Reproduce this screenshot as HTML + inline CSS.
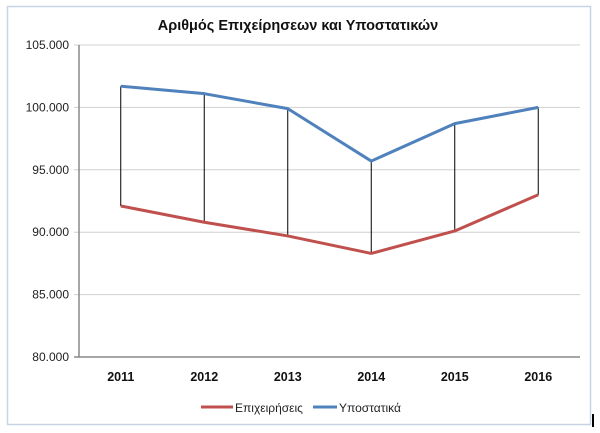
<!DOCTYPE html>
<html><head><meta charset="utf-8"><style>
body{margin:0;background:#fff;}
svg{display:block;font-family:"Liberation Sans","DejaVu Sans",sans-serif;}
</style></head><body>
<svg width="600" height="433">
<rect x="7.5" y="6.5" width="583" height="418" fill="#fff" stroke="#c8d3e3" stroke-width="1.5"/>
<text x="298" y="30" text-anchor="middle" font-size="14.5" font-weight="bold" fill="#111">Αριθμός Επιχείρησεων  και Υποστατικών</text>
<g id="grid"></g><g id="drops"></g><g id="lines"></g><g id="labels"></g>
<g>
<line x1="201" y1="407" x2="233" y2="407" stroke="#c0504d" stroke-width="3"/>
<text x="235" y="412" font-size="12" fill="#222">Επιχειρήσεις</text>
<line x1="313" y1="407" x2="337" y2="407" stroke="#4f81bd" stroke-width="3"/>
<text x="339" y="412" font-size="12" fill="#222">Υποστατικά</text>
</g>
<rect x="592" y="414" width="2" height="13" fill="#000"/>
</svg>
<script>
const categories=["2011","2012","2013","2014","2015","2016"];
const epicheiriseis=[92.1,90.8,89.7,88.3,90.1,93.0];
const ypostatika=[101.7,101.1,99.9,95.7,98.7,100.0];
const yTicks=[80,85,90,95,100,105];
const yTickLabels=["80.000","85.000","90.000","95.000","100.000","105.000"];
const NS="http://www.w3.org/2000/svg";
const L=79,R=580,T=45,B=357,ymin=80,ymax=105;
const y=v=>B-(v-ymin)/(ymax-ymin)*(B-T);
const bw=(R-L)/categories.length;
const x=i=>L+bw*(i+0.5);
function mk(tag,attrs,parent){const e=document.createElementNS(NS,tag);for(const k in attrs)e.setAttribute(k,attrs[k]);document.getElementById(parent).appendChild(e);return e;}
yTicks.forEach((t,i)=>{
 const g=mk('line',{x1:L-5,x2:R,y1:y(t),y2:y(t),stroke:i==0?'#888':'#d0d0d0','stroke-width':i==0?1.5:1},'grid');
 
 
 const tx=mk('text',{x:L-10,y:y(t)+4,'text-anchor':'end','font-size':12,fill:'#222'},'labels');
 tx.textContent=yTickLabels[i];
 
 
});
const ax=mk('line',{x1:L,x2:L,y1:T,y2:B,stroke:'#888','stroke-width':1.5},'grid');


categories.forEach((c,i)=>{
 const d=mk('line',{x1:x(i),x2:x(i),y1:y(ypostatika[i]),y2:y(epicheiriseis[i]),stroke:'#000','stroke-width':1},'drops');
 
 
 const t=mk('text',{x:x(i),y:381,'text-anchor':'middle','font-size':12.5,'font-weight':'bold',fill:'#111'},'labels');
 t.textContent=c;
 
 
});
function series(vals,color,name){
 const p=mk('polyline',{points:vals.map((v,i)=>x(i)+','+y(v)).join(' '),fill:'none',stroke:color,'stroke-width':3,'stroke-linejoin':'round'},'lines');
 
 
}
series(epicheiriseis,'#c0504d','line-epicheiriseis');
series(ypostatika,'#4f81bd','line-ypostatika');
</script>
</body></html>
